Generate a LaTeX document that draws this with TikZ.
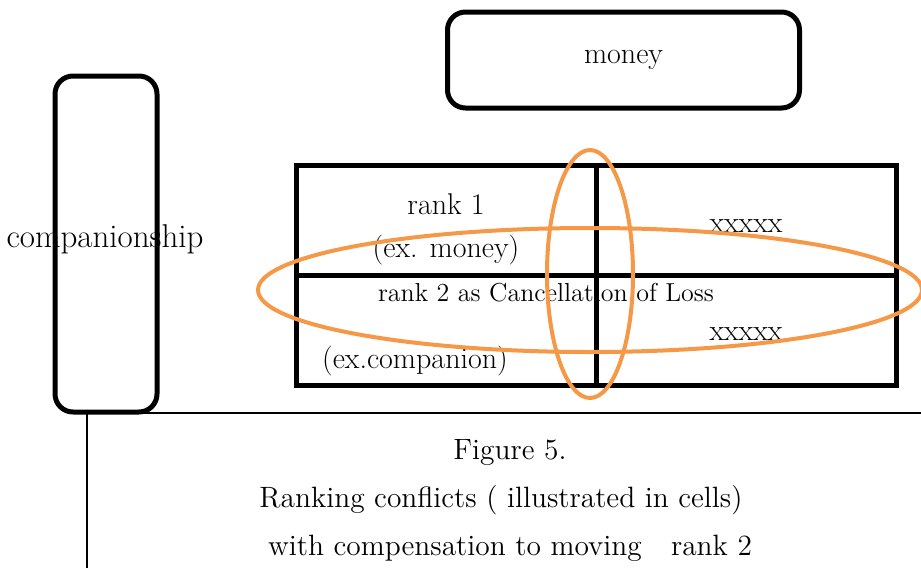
\documentclass[tikz,border=0pt]{standalone}
\usepackage{fontspec}
\definecolor{ringorange}{RGB}{245,152,72}
\begin{document}
\begin{tikzpicture}[x=0.5pt, y=-0.5pt,
  rbox/.style={draw, line width=2.5pt, rounded corners=9pt, inner sep=0pt},
  cell/.style={draw, line width=2.5pt, inner sep=0pt,
               minimum width=150pt, minimum height=55pt},
  ring/.style={draw=ringorange, line width=2pt},
  lbl/.style={font=\fontsize{15}{17}\selectfont, inner sep=0pt},
  captext/.style={font=\fontsize{14.7}{17}\selectfont, inner sep=0pt}
]
  \useasboundingbox (0,0) rectangle (921,568);

  % --- Boxes ---
  \node[rbox, minimum width=176pt, minimum height=48pt,
        font=\fontsize{15}{17}\selectfont] (money) at (623.5,60) {money};
  \node[rbox, minimum width=51pt, minimum height=168pt] (comp) at (106,244) {};
  \node[lbl, font=\fontsize{16.5}{19}\selectfont] (complbl) at (105,239) {companionship};

  % --- Cells ---
  \node[cell] (c11) at (446,220) {};
  \node[cell] (c12) at (746,220) {};
  \node[cell] (c21) at (446,330.5) {};
  \node[cell] (c22) at (746,330.5) {};

  \node[lbl] (rankone) at (446,204) {rank 1};
  \node[lbl] (exmoney) at (446,250) {(ex. money)};
  \node[lbl, font=\fontsize{13}{15}\selectfont] (ranktwo) at (546,293)
        {rank 2 as Cancellation of Loss};
  \node[lbl] (xa) at (746,226) {xxxxx};
  \node[lbl] (xb) at (746,334) {xxxxx};
  \node[lbl] (excomp) at (415,361) {(ex.companion)};

  % --- Rings ---
  \draw[ring] (590,290) ellipse [x radius=166pt, y radius=31pt];
  \draw[ring] (590,274) ellipse [x radius=21.5pt, y radius=62pt];

  % --- Caption ---
  \coordinate (capbot) at (87,568);
  \coordinate (capcorner) at (87,413);
  \coordinate (capright) at (921,413);
  \draw[line width=0.8pt] (capbot) -- (capcorner) -- (capright);

  \node[captext] (fig) at (510,452) {Figure 5.};
  \node[captext] (capone) at (501,500) {Ranking conflicts ( illustrated in cells)};
  \node[captext] (captwo) at (510,548) {with compensation to moving\quad rank 2};
\end{tikzpicture}
\end{document}
